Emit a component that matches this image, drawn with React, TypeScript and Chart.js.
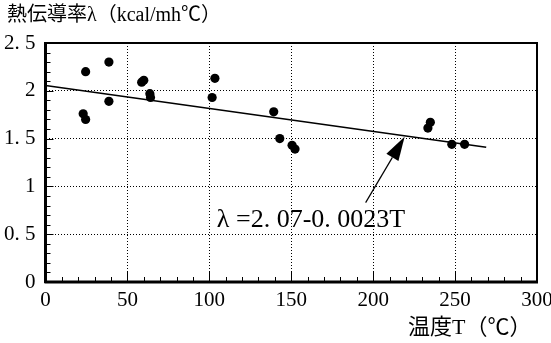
import React, { useEffect, useRef } from 'react';
import { Chart, registerables } from 'chart.js';

Chart.register(...registerables);

// Measured data: temperature T (°C) and thermal conductivity λ (kcal/mh°C)
const temperatures = [23, 24.5, 24.5, 38.7, 38.7, 58.7, 60, 63.7, 64.1, 101.7, 103.4, 139.3, 143, 150.5, 152.3, 233.4, 234.9, 248, 255.8];
const conductivity = [1.76, 1.70, 2.20, 2.30, 1.89, 2.09, 2.11, 1.97, 1.93, 1.93, 2.13, 1.78, 1.50, 1.43, 1.39, 1.61, 1.67, 1.44, 1.44];

// Regression line endpoints as drawn
const fitLineT = [0, 269];
const fitLineLambda = [2.055, 1.41];

const yTickLabels = ['0', '0. 5', '1', '1. 5', '2', '2. 5'];
const xTickLabels = ['0', '50', '100', '150', '200', '250', '300'];

const titleText = '熱伝導率λ（kcal/mh℃）';
const xAxisText = '温度T（℃）';
const equationText = 'λ =2. 07-0. 0023T';

// annotation anchors (data units)
const arrowTip = { x: 219.2, y: 1.52 };
const arrowTail = { x: 195.4, y: 0.83 };
const equationAnchor = { x: 104.6, y: 0.58 };

const SERIF = '"Liberation Serif", "Noto Sans CJK JP", serif';

const decorPlugin = {
  id: 'decor',
  beforeDatasetsDraw(chart: any) {
    const { ctx, chartArea: a, scales } = chart;
    const x = scales.x;
    const y = scales.y;
    ctx.save();
    ctx.strokeStyle = '#000';
    ctx.lineWidth = 1;
    for (let v = 0; v <= 300; v += 10) {
      const px = Math.round(x.getPixelForValue(v)) + 0.5;
      const len = v % 50 === 0 ? 10 : 5;
      ctx.beginPath();
      ctx.moveTo(px, a.bottom);
      ctx.lineTo(px, a.bottom - len);
      ctx.stroke();
    }
    for (let i = 0; i <= 25; i++) {
      const py = Math.round(y.getPixelForValue(i / 10)) + 0.5;
      const len = i % 5 === 0 ? 8 : 5;
      ctx.beginPath();
      ctx.moveTo(a.left, py);
      ctx.lineTo(a.left + len, py);
      ctx.stroke();
    }
    ctx.lineWidth = 2;
    ctx.strokeRect(a.left, a.top, a.right - a.left, a.bottom - a.top);
    ctx.lineWidth = 3;
    ctx.beginPath();
    ctx.moveTo(a.left, a.top - 1);
    ctx.lineTo(a.left, a.bottom + 1);
    ctx.stroke();
    ctx.beginPath();
    ctx.moveTo(a.left - 1, a.bottom);
    ctx.lineTo(a.right + 1, a.bottom);
    ctx.stroke();
    ctx.restore();
  },
  afterDraw(chart: any) {
    const { ctx, scales } = chart;
    const x = scales.x;
    const y = scales.y;
    ctx.save();
    ctx.fillStyle = '#000';
    ctx.strokeStyle = '#000';
    // titles
    ctx.textBaseline = 'middle';
    ctx.textAlign = 'left';
    ctx.font = '20px ' + SERIF;
    ctx.fillText(titleText, 7, 16);
    ctx.font = '22px ' + SERIF;
    ctx.fillText(xAxisText, 408, 328);
    // equation
    ctx.font = '26px ' + SERIF;
    ctx.textBaseline = 'alphabetic';
    ctx.fillText(equationText, x.getPixelForValue(equationAnchor.x), y.getPixelForValue(equationAnchor.y));
    // arrow
    const tx = x.getPixelForValue(arrowTip.x);
    const ty = y.getPixelForValue(arrowTip.y);
    const sx = x.getPixelForValue(arrowTail.x);
    const sy = y.getPixelForValue(arrowTail.y);
    const ang = Math.atan2(ty - sy, tx - sx);
    const headLen = 24;
    const headW = 7;
    const bx = tx - headLen * Math.cos(ang);
    const by = ty - headLen * Math.sin(ang);
    ctx.lineWidth = 1.2;
    ctx.beginPath();
    ctx.moveTo(sx, sy);
    ctx.lineTo(bx, by);
    ctx.stroke();
    ctx.beginPath();
    ctx.moveTo(tx, ty);
    ctx.lineTo(bx + headW * Math.sin(ang), by - headW * Math.cos(ang));
    ctx.lineTo(bx - headW * Math.sin(ang), by + headW * Math.cos(ang));
    ctx.closePath();
    ctx.fill();
    ctx.restore();
  },
};

export default function App() {
  const canvasRef = useRef<HTMLCanvasElement | null>(null);

  useEffect(() => {
    const canvas = canvasRef.current;
    if (!canvas) return;
    const points = temperatures.map((t, i) => ({ x: t, y: conductivity[i] }));
    const fit = fitLineT.map((t, i) => ({ x: t, y: fitLineLambda[i] }));
    const chart = new Chart(canvas, {
      type: 'scatter',
      data: {
        datasets: [
          {
            type: 'line',
            data: fit,
            borderColor: '#000',
            borderWidth: 1.6,
            pointRadius: 0,
            fill: false,
          } as any,
          {
            data: points,
            backgroundColor: '#000',
            borderColor: '#000',
            borderWidth: 0,
            pointRadius: 4.6,
          },
        ],
      },
      options: {
        responsive: false,
        animation: false,
        events: [],
        layout: { padding: { top: 43, right: 14, left: 0, bottom: 0 } },
        plugins: {
          legend: { display: false },
          tooltip: { enabled: false },
          title: { display: false },
        },
        scales: {
          x: {
            type: 'linear',
            min: 0,
            max: 300,
            afterFit: (s: any) => { s.height = 61; s.paddingLeft = 0; s.paddingRight = 0; },
            afterBuildTicks: (s: any) => {
              s.ticks = xTickLabels.map((_, i) => ({ value: i * 50 }));
            },
            ticks: {
              color: '#000',
              padding: 6,
              maxRotation: 0,
              font: { family: SERIF, size: 21 },
              callback: (v: any) => xTickLabels[Math.round(Number(v) / 50)],
            },
            grid: { color: '#000', lineWidth: 1, drawTicks: false },
            border: { display: false, dash: [1, 2] },
          },
          y: {
            type: 'linear',
            min: 0,
            max: 2.5,
            afterFit: (s: any) => { s.width = 45.5; s.paddingTop = 0; s.paddingBottom = 0; },
            afterBuildTicks: (s: any) => {
              s.ticks = yTickLabels.map((_, i) => ({ value: i * 0.5 }));
            },
            ticks: {
              color: '#000',
              padding: 10,
              font: { family: SERIF, size: 21 },
              callback: (v: any) => yTickLabels[Math.round(Number(v) / 0.5)],
            },
            grid: { color: '#000', lineWidth: 1, drawTicks: false },
            border: { display: false, dash: [1, 2] },
          },
        },
      },
      plugins: [decorPlugin],
    });
    return () => chart.destroy();
  }, []);

  return (
    <div style={{ position: 'absolute', left: 0, top: 0, width: 551, height: 343, background: '#fff' }}>
      <canvas ref={canvasRef} width={551} height={343} />
    </div>
  );
}
